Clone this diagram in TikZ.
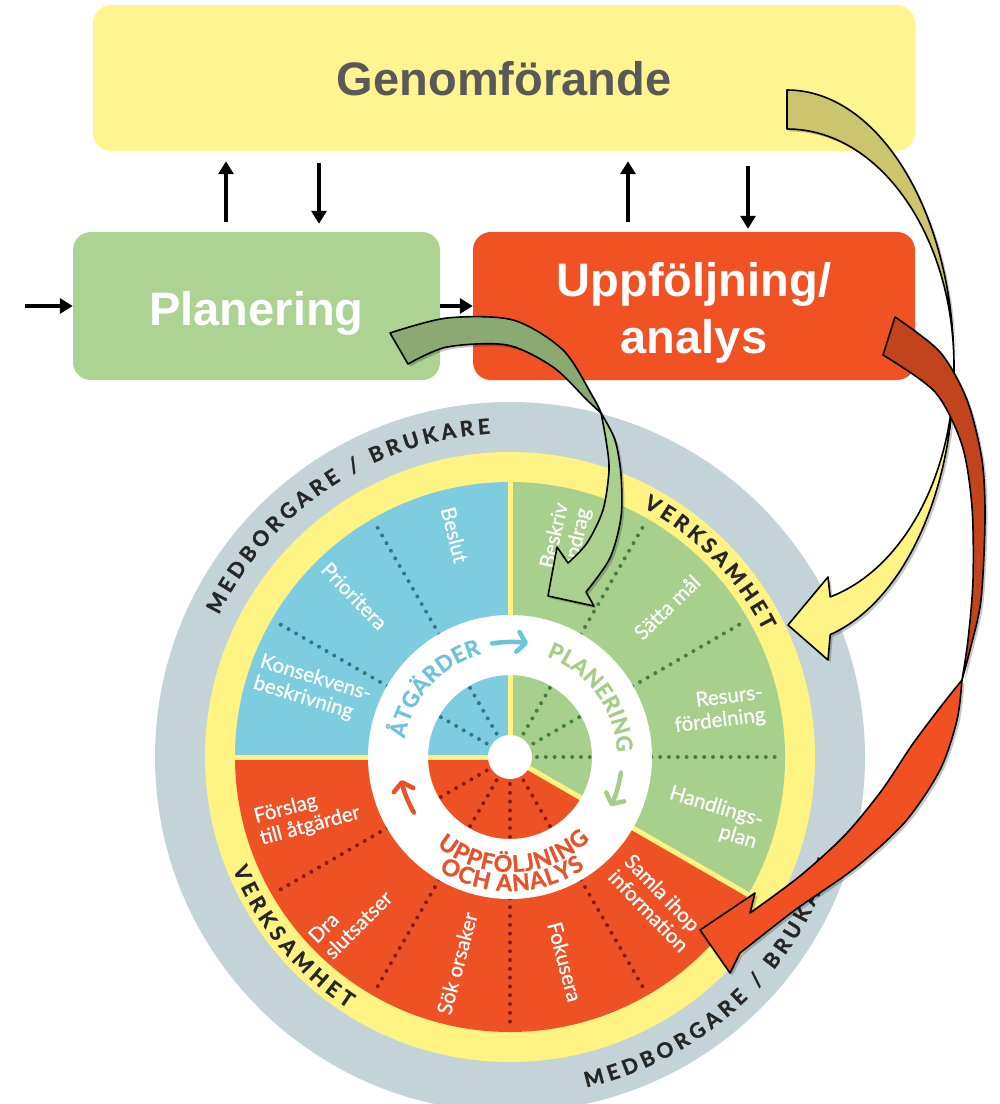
\documentclass[tikz,border=0pt]{standalone}
\usepackage{fontspec}
\setmainfont{Lato}
\newfontfamily\headfont{Liberation Sans}
\newfontfamily\labelfont{Lato}[FakeBold=0.7]
\newfontfamily\capsfont{Lato}[BoldFeatures={FakeBold=1.2}]
\usetikzlibrary{arrows.meta,decorations.text,calc,shadows}

% palette
\definecolor{genyellow}{HTML}{FFF590}
\definecolor{plangreen}{HTML}{ACD391}
\definecolor{uppred}{HTML}{F05223}
\definecolor{headgrey}{HTML}{595959}
\definecolor{ringgrey}{HTML}{C4D3D8}
\definecolor{ringyellow}{HTML}{FFF383}
\definecolor{segblue}{HTML}{7ECCE0}
\definecolor{seggreen}{HTML}{A8D08D}
\definecolor{segred}{HTML}{EE5124}
\definecolor{dotblue}{HTML}{35758C}
\definecolor{dotgreen}{HTML}{457F46}
\definecolor{dotred}{HTML}{861A1A}
\definecolor{txtblue}{HTML}{6CC4DB}
\definecolor{txtgreen}{HTML}{A4CE88}
\definecolor{txtred}{HTML}{E8512A}
\definecolor{ringink}{HTML}{262626}
\definecolor{arrYback}{HTML}{CCC56E}
\definecolor{arrYfront}{HTML}{FFF385}
\definecolor{arrGback}{HTML}{8BAA72}
\definecolor{arrGfront}{HTML}{A9D08E}
\definecolor{arrRback}{HTML}{C1441C}
\definecolor{arrRfront}{HTML}{F05022}

\newcommand\capsring{\capsfont\fontsize{21}{21}\selectfont\bfseries\color{ringink}}
\newcommand\capsinner{\capsfont\fontsize{22}{22}\selectfont\bfseries}
\newcommand\capsinnersm{\capsfont\fontsize{23}{23}\selectfont\bfseries}

\tikzset{
  box/.style={rounded corners=18pt, inner sep=0pt, text=white,
    font=\headfont\bfseries\fontsize{47}{57}\selectfont},
  conn/.style={line width=3.8pt, -{Triangle[length=13pt,width=15pt]}},
  dotline/.style={line width=4pt, line cap=round, dash pattern=on 0pt off 8.8pt, draw=#1},
  divider/.style={draw=ringyellow, line width=5pt},
  seglabel/.style={text=white, inner sep=0pt, font=\labelfont\fontsize{20.5}{22.5}\selectfont},
  arctext/.style={decorate, decoration={text along path, text align={fit to path}, text={#1}}},
  cyclearrow/.style={line width=4.5pt, line cap=round,
    -{Straight Barb[length=8pt,width=20pt,line cap=round,line join=round]}},
  bigarrow/.style={draw=black, line width=1.6pt, line join=round,
    drop shadow={shadow xshift=2.5pt, shadow yshift=-2.5pt, opacity=0.22, fill=black}},
}

\begin{document}
\begin{tikzpicture}[x=1pt,y=1pt]
\useasboundingbox (0,0) rectangle (1000,-1104);
\clip (0,0) rectangle (1000,-1104);

% ---------- process boxes ----------
\node[box, fill=genyellow, text=headgrey, minimum width=822pt, minimum height=146pt,
      text height=34pt, text depth=0pt] (gen) at (504,-78) {Genomförande};
\node[box, fill=plangreen, minimum width=367pt, minimum height=148pt,
      text height=38pt, text depth=0pt] (plan) at (256.5,-306) {Planering};
\node[box, fill=uppred, minimum width=442pt, minimum height=148pt, align=center,
      text height=94pt, text depth=0pt] (upp) at (694,-306) {Uppföljning/\\analys};

% ---------- connectors ----------
\coordinate (start) at (25,-306);
\draw[conn] (start) -- (plan.west);
\draw[conn] (plan.east) -- (upp.west);
\draw[conn] ($(plan.north)+(-30.5,10)$) -- ($(plan.north |- gen.south)+(-30.5,-10)$);
\draw[conn] ($(plan.north |- gen.south)+(62.5,-12)$) -- ($(plan.north)+(62.5,8)$);
\draw[conn] ($(upp.north)+(-66,10)$) -- ($(upp.north |- gen.south)+(-66,-10)$);
\draw[conn] ($(upp.north |- gen.south)+(54,-15)$) -- ($(upp.north)+(54,3)$);

% ---------- quality wheel ----------
\begin{scope}[shift={(510,-757)}]
  \fill[ringgrey] (0,0) circle[radius=355];
  \fill[ringyellow] (0,0) circle[radius=305];
  \fill[segblue] (0,0) -- (90:275) arc[start angle=90, end angle=180, radius=275] -- cycle;
  \fill[segred] (0,0) -- (180:275) arc[start angle=180, end angle=330, radius=275] -- cycle;
  \fill[seggreen] (0,0) -- (-30:275) arc[start angle=-30, end angle=90, radius=275] -- cycle;

  \foreach \a in {120,150} \draw[dotline=dotblue] (\a:27) -- (\a:270);
  \foreach \a in {0,30,60} \draw[dotline=dotgreen] (\a:27) -- (\a:270);
  \foreach \a in {210,240,270,300} \draw[dotline=dotred] (\a:27) -- (\a:270);

  \foreach \a in {90,180,330} \draw[divider] (0,0) -- (\a:276);

  \fill[white, even odd rule] (0,0) circle[radius=142] (0,0) circle[radius=82];
  \fill[white] (0,0) circle[radius=22];

  % outer ring captions
  \path[arctext={|\capsring|MEDBORGARE / BRUKARE}]
    (154:324) arc[start angle=154, end angle=93.5, radius=324];
  \path[arctext={|\capsring|MEDBORGARE / BRUKARE}]
    (283:339) arc[start angle=283, end angle=342, radius=339];
  \path[arctext={|\capsring|VERKSAMHET}]
    (62:283) arc[start angle=62, end angle=26.5, radius=283];
  \path[arctext={|\capsring|VERKSAMHET}]
    (202:299) arc[start angle=202, end angle=237.2, radius=299];

  % inner ring captions
  \path[arctext={|\capsinner\color{txtblue}|ÅTGÄRDER}]
    (170:107) arc[start angle=170, end angle=105.5, radius=107];
  \path[arctext={|\capsinner\color{txtgreen}|PLANERING}]
    (70:107) arc[start angle=70, end angle=2.5, radius=107];
  \path[arctext={|\capsinnersm\color{txtred}|UPPFÖLJNING}]
    (230.5:115) arc[start angle=230.5, end angle=314, radius=115];
  \path[arctext={|\capsinnersm\color{txtred}|OCH ANALYS}]
    (238:134) arc[start angle=238, end angle=304, radius=134];

  % cycle arrows in the white ring
  \draw[cyclearrow, txtblue] (99:115) arc[start angle=99, end angle=81, radius=115];
  \draw[cyclearrow, txtgreen] (-8:112) arc[start angle=-8, end angle=-26, radius=112];
  \draw[cyclearrow, txtred] (210:111) arc[start angle=210, end angle=192, radius=111];

  % segment labels
  \node[seglabel, rotate=-76] (beslut) at (104:229) {Beslut};
  \node[seglabel, rotate=-46] (prio) at (134:224) {Prioritera};
  \node[seglabel, rotate=-17, align=left] (kons) at (161:209) {Konsekvens-\\beskrivning};
  \node[seglabel, rotate=77, align=right] (beskriv) at (75.6:222) {Beskriv\\uppdrag};
  \node[seglabel, rotate=44] (satta) at (43.7:217) {Sätta mål};
  \node[seglabel, rotate=7, align=right] (resurs) at (12.7:214) {Resurs-\\fördelning};
  \node[seglabel, rotate=-17, align=right] (handl) at (-16.7:212) {Handlings-\\plan};
  \node[seglabel, rotate=-46, align=left] (samla) at (-44.8:207) {Samla ihop\\information};
  \node[seglabel, rotate=-75] (fokus) at (-75:212) {Fokusera};
  \node[seglabel, rotate=75] (sok) at (255.6:213) {Sök orsaker};
  \node[seglabel, rotate=45, align=left] (dra) at (225:226) {Dra\\slutsatser};
  \node[seglabel, rotate=15, align=left] (forslag) at (196:211) {Förslag\\till åtgärder};
\end{scope}

% ---------- curved block arrows ----------
% Genomförande -> Verksamhet
\coordinate (yc) at (787,-367);
\draw[bigarrow, fill=arrYback] ($(yc)+(0,277)$)
  arc[start angle=90, end angle=0, x radius=167, y radius=277]
  arc[start angle=0, end angle=90, x radius=167, y radius=238] -- cycle;
\draw[bigarrow, fill=arrYfront] ($(yc)+(167,0)$)
  arc[start angle=0, end angle=-75, x radius=167, y radius=277]
  -- (828,-660) -- (788,-625) -- (828,-577)
  -- ($(yc)+(43.2,-229.9)$)
  arc[start angle=-75, end angle=0, x radius=167, y radius=238] -- cycle;

% Uppföljning/analys -> Samla ihop information
\draw[bigarrow, fill=arrRback]
  plot[smooth] coordinates {(895,-317) (940,-352) (967,-400) (982,-460) (985,-520) (981,-600) (970,-650) (962,-680)}
  -- plot[smooth] coordinates {(962,-680) (968,-640) (973,-580) (972,-507) (962,-445) (935,-392) (883,-355)}
  -- cycle;
\draw[bigarrow, fill=arrRfront]
  plot[smooth] coordinates {(962,-680) (957,-720) (940,-770) (905,-822) (855,-868) (795,-910) (740,-953)}
  -- (730,-973) -- (700,-930) -- (755,-893) -- (750,-913)
  -- plot[smooth] coordinates {(750,-913) (800,-876) (845,-835) (882,-790) (912,-745) (942,-705) (962,-680)}
  -- cycle;

% Planering -> Beskriv uppdrag
\draw[bigarrow, fill=arrGback]
  plot[smooth] coordinates {(390,-333) (447,-318) (513,-320) (563,-350) (593,-397) (601,-413)}
  -- plot[smooth] coordinates {(601,-413) (587,-400) (553,-367) (507,-345) (447,-347) (408,-364)}
  -- cycle;
\draw[bigarrow, fill=arrGfront]
  plot[smooth] coordinates {(601,-413) (615,-440) (621,-475) (621,-517) (610,-558) (586,-592)}
  -- (594,-606) -- (548,-596) -- (557,-547) -- (568,-563)
  -- plot[smooth] coordinates {(568,-563) (587,-543) (603,-510) (609,-470) (606,-440) (601,-413)}
  -- cycle;
\end{tikzpicture}
\end{document}
